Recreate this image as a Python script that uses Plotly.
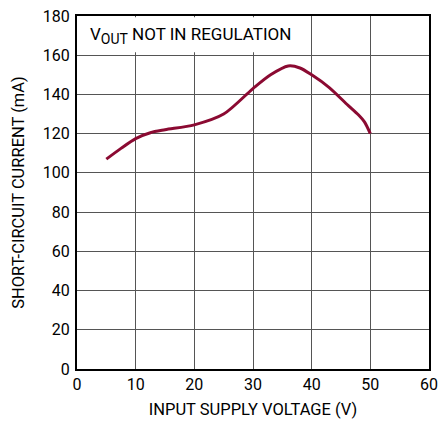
import plotly.graph_objects as go

vin = [5, 7.5, 10, 12.5, 15, 20, 25, 30, 33, 36, 38, 40, 43, 46, 48, 49, 50]
isc = [107, 112.5, 117.5, 120.5, 122, 124.5, 130, 143, 150, 154.5, 153.5, 150, 143.5, 135, 129.5, 126, 120]

x_ticks = [0, 10, 20, 30, 40, 50, 60]
y_ticks = [0, 20, 40, 60, 80, 100, 120, 140, 160, 180]

FONT = "Roboto, sans-serif"

fig = go.Figure()
fig.add_trace(go.Scatter(
    x=vin, y=isc, mode="lines",
    line=dict(color="#8B0A32", width=3, shape="spline", smoothing=0.8),
    showlegend=False, hoverinfo="skip"))

fig.add_shape(type="rect", xref="x", yref="y", x0=0.3, x1=30.8, y0=161.5, y1=179.4,
              fillcolor="white", line=dict(width=0), layer="above")
fig.add_annotation(x=1.8, y=170.0, xref="x", yref="y", xanchor="left", yanchor="middle",
                   text="V<sub><span style='font-size:14px'>OUT</span></sub> NOT IN REGULATION",
                   showarrow=False,
                   font=dict(family=FONT, size=17, color="black"))

axis_common = dict(showgrid=True, gridcolor="#555555", gridwidth=1,
                   showline=True, linecolor="black", linewidth=2, mirror=True,
                   ticks="", zeroline=False, automargin=False,
                   tickfont=dict(family=FONT, size=16, color="black"),
                   title_font=dict(family=FONT, size=16.5, color="black"))

fig.update_xaxes(range=[0, 60], tickvals=x_ticks, title_text="INPUT SUPPLY VOLTAGE (V)",
                 title_standoff=10, **axis_common)
fig.update_yaxes(range=[0, 180], tickvals=y_ticks, title_text="SHORT-CIRCUIT CURRENT (mA)",
                 title_standoff=14, ticklabelstandoff=2, **axis_common)

fig.update_layout(width=441, height=423, margin=dict(l=77, r=12, t=16, b=54),
                  plot_bgcolor="white", paper_bgcolor="white")

fig.write_html("out.html", config={"displayModeBar": False},
               post_script="document.body.style.margin='0';document.body.style.overflow='hidden';")
